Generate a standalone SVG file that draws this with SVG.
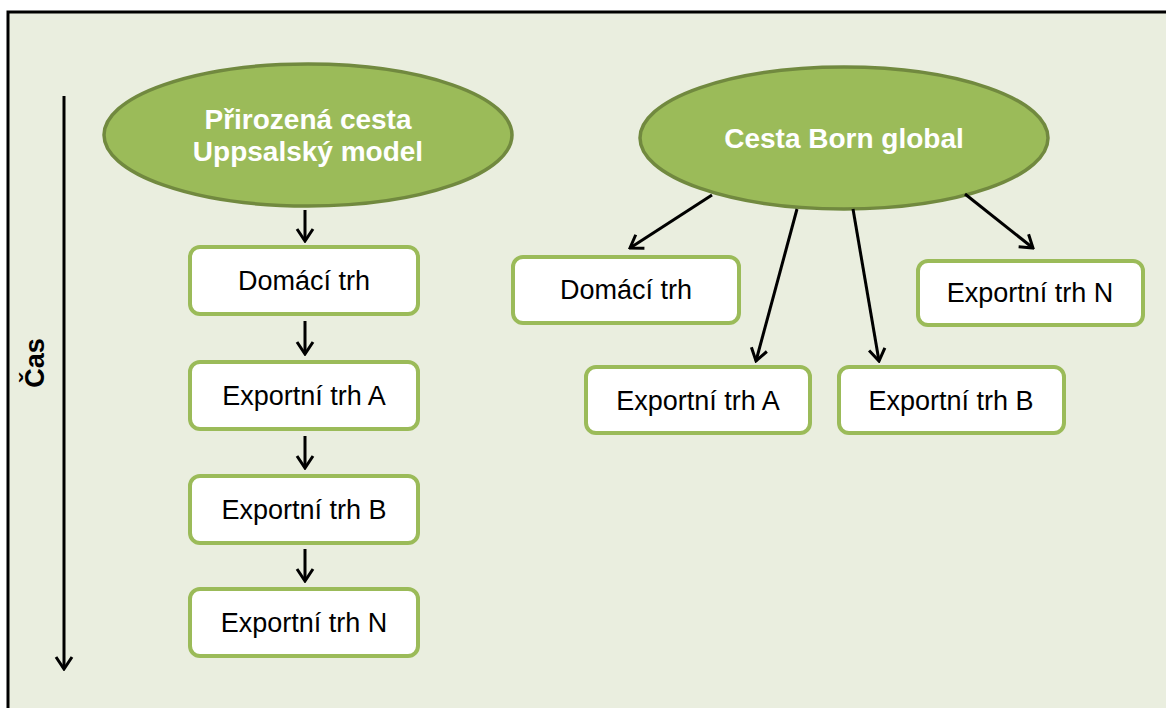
<svg xmlns="http://www.w3.org/2000/svg" width="1166" height="708" viewBox="0 0 1166 708">
<style>
.bg{fill:#EAEEDF;stroke:#000;stroke-width:3}
.oval{fill:#9BBB59;stroke:#71893F;stroke-width:3.5}
.box{fill:#fff;stroke:#9BBB59;stroke-width:4}
.t{font-family:"Liberation Sans",Arial,sans-serif;font-size:27px;fill:#000;text-anchor:middle}
.h{font-family:"Liberation Sans",Arial,sans-serif;font-size:28px;font-weight:bold;fill:#fff;text-anchor:middle}
</style>
<defs>
<marker id="a" viewBox="-16 -10 18 20" markerWidth="18" markerHeight="20" refX="0" refY="0" orient="auto" markerUnits="userSpaceOnUse">
<path d="M-12,-8 L0,0 L-12,8" fill="none" stroke="#000" stroke-width="3" stroke-linejoin="miter"/>
</marker>
</defs>
<rect class="bg" x="8" y="12" width="1170" height="710"/>
<g id="time">
<line x1="64" y1="96" x2="64" y2="669" stroke="#000" stroke-width="3" marker-end="url(#a)"/>
<text class="t" font-weight="bold" font-size="28" transform="translate(44,363) rotate(-90)">Čas</text>
</g>
<g id="uppsala">
<ellipse class="oval" cx="308" cy="135" rx="204" ry="71"/>
<text class="h" x="308" y="129">Přirozená cesta</text>
<text class="h" x="308" y="161">Uppsalský model</text>
</g>
<g id="l-domaci"><rect class="box" x="190" y="247" width="228" height="67" rx="10"/><text class="t" x="304" y="290">Domácí trh</text></g>
<g id="l-a"><rect class="box" x="190" y="362" width="228" height="67" rx="10"/><text class="t" x="304" y="405">Exportní trh A</text></g>
<g id="l-b"><rect class="box" x="190" y="476" width="228" height="67" rx="10"/><text class="t" x="304" y="519">Exportní trh B</text></g>
<g id="l-n"><rect class="box" x="190" y="589" width="228" height="67" rx="10"/><text class="t" x="304" y="632">Exportní trh N</text></g>
<g id="born">
<ellipse class="oval" cx="844" cy="138" rx="204" ry="71"/>
<text class="h" x="844" y="148">Cesta Born global</text>
</g>
<g id="r-domaci"><rect class="box" x="513" y="257" width="226" height="66" rx="10"/><text class="t" x="626" y="299">Domácí trh</text></g>
<g id="r-n"><rect class="box" x="918" y="261" width="225" height="64" rx="10"/><text class="t" x="1030" y="302">Exportní trh N</text></g>
<g id="r-a"><rect class="box" x="586" y="367" width="224" height="66" rx="10"/><text class="t" x="698" y="410">Exportní trh A</text></g>
<g id="r-b"><rect class="box" x="839" y="367" width="225" height="66" rx="10"/><text class="t" x="951" y="410">Exportní trh B</text></g>
<g id="connectors" stroke="#000" stroke-width="3" fill="none">
<line x1="305" y1="210" x2="305" y2="241" marker-end="url(#a)"/>
<line x1="305" y1="321" x2="305" y2="354" marker-end="url(#a)"/>
<line x1="305" y1="436" x2="305" y2="468" marker-end="url(#a)"/>
<line x1="305" y1="549" x2="305" y2="581" marker-end="url(#a)"/>
<line x1="712" y1="195" x2="630" y2="248" marker-end="url(#a)"/>
<line x1="797" y1="209" x2="756" y2="361" marker-end="url(#a)"/>
<line x1="853" y1="209" x2="879" y2="361" marker-end="url(#a)"/>
<line x1="965" y1="194" x2="1033" y2="248" marker-end="url(#a)"/>
</g>
</svg>
